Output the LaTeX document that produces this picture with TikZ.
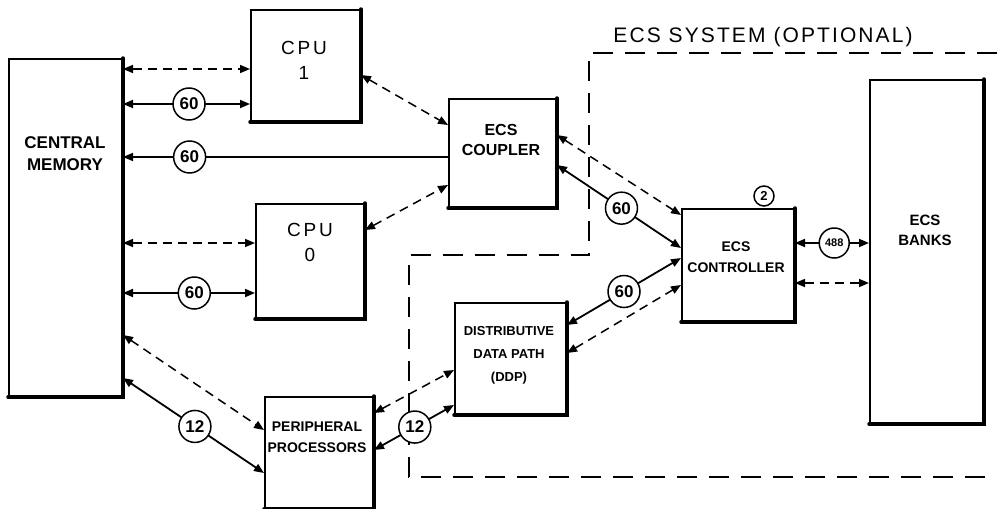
\documentclass[tikz,border=0pt]{standalone}
\usepackage{fontspec}
\setmainfont{Liberation Sans}
\newfontfamily\widefont[LetterSpace=15]{Liberation Sans}
\newfontfamily\titlefont[LetterSpace=10]{Liberation Sans}
\usetikzlibrary{arrows.meta}
\begin{document}
\begin{tikzpicture}[x=1pt,y=-1pt,
  box/.style={draw, line width=2pt, anchor=north west, inner sep=0pt},
  txt/.style={align=center, font=\bfseries\fontsize{14}{21}\selectfont},
  cputxt/.style={align=center, font=\widefont\fontsize{19}{25}\selectfont},
  tip/.tip={Triangle[length=10pt,width=8pt]},
  dsh/.style={line width=1.5pt, dash pattern=on 9pt off 6pt, tip-tip},
  sol/.style={line width=1.8pt, tip-tip},
  circ/.style={circle, draw, fill=white, line width=1.5pt, minimum size=32pt, inner sep=0pt, font=\bfseries\fontsize{17}{17}\selectfont},
  bnd/.style={line width=1.5pt, dash pattern=on 20pt off 12pt}]
\useasboundingbox (0,0) rectangle (997,509);

% boxes
\node[box, minimum width=113pt, minimum height=337pt] (cm) at (8,58) {};
\node[box, minimum width=109pt, minimum height=111pt] (cpu1) at (250,9) {};
\node[box, minimum width=108pt, minimum height=114pt] (cpu0) at (255,203) {};
\node[box, minimum width=107pt, minimum height=108pt] (coupler) at (448,98) {};
\node[box, minimum width=108pt, minimum height=111pt] (pp) at (264,396) {};
\node[box, minimum width=111pt, minimum height=111pt] (ddp) at (454,302) {};
\node[box, minimum width=112pt, minimum height=112pt] (ctrl) at (681,208) {};
\node[box, minimum width=113pt, minimum height=343pt] (banks) at (869,79) {};

\foreach \b in {cm,cpu1,cpu0,coupler,pp,ddp,ctrl,banks}
  \draw[line width=3.5pt, line cap=round] (\b.south west) -- (\b.south east) -- (\b.north east);

% texts
\node[txt, font=\bfseries\fontsize{17}{22}\selectfont] (cmt) at (65,154) {CENTRAL\\MEMORY};
\node[cputxt] (cpu1t) at (304,60) {CPU\\1};
\node[cputxt] (cpu0t) at (310,242) {CPU\\0};
\node[txt, font=\bfseries\fontsize{16}{20}\selectfont] (couplert) at (501,140) {ECS\\COUPLER};
\node[txt] (ctrlt) at (736,257) {ECS\\CONTROLLER};
\node[txt, font=\bfseries\fontsize{15}{20}\selectfont] (bankst) at (925,230) {ECS\\BANKS};
\node[txt, font=\bfseries\fontsize{13}{23}\selectfont] (ddpt) at (509,355) {DISTRIBUTIVE\\DATA PATH\\(DDP)};
\node[txt] (ppt) at (317,437) {PERIPHERAL\\PROCESSORS};

% ECS system boundary
\draw[bnd] (997,53) -- (589,53) -- (589,255) -- (409,255) -- (409,477) -- (997,477);
\node[font=\titlefont\fontsize{21}{21}\selectfont] (title) at (763,37) {ECS SYSTEM (OPTIONAL)};

% CM <-> CPU1
\draw[dsh] (cm.east |- 0,69) -- (cpu1.west |- 0,69);
\draw[sol] (cm.east |- 0,104) -- node[circ, pos=0.52] (c1) {60} (cpu1.west |- 0,104);
% CM <- coupler
\draw[line width=1.5pt, tip-] (cm.east |- 0,157) -- node[circ, pos=0.205] (c2) {60} (coupler.west |- 0,157);
% CM <-> CPU0
\draw[dsh] (cm.east |- 0,243) -- (cpu0.west |- 0,243);
\draw[sol] (cm.east |- 0,293) -- node[circ, pos=0.54] (c3) {60} (cpu0.west |- 0,293);
% CM <-> PP
\draw[dsh] (cm.east |- 0,335) -- (pp.west |- 0,430);
\draw[sol] (cm.east |- 0,378) -- node[circ, pos=0.51] (c4) {12} (pp.west |- 0,473);
% CPUs <-> coupler
\draw[dsh] (cpu1.east |- 0,75) -- (coupler.west |- 0,125);
\draw[dsh] (cpu0.east |- 0,230) -- (coupler.west |- 0,185);
% coupler <-> controller
\draw[dsh] (coupler.east |- 0,135) -- (ctrl.west |- 0,215);
\draw[sol] (coupler.east |- 0,165) -- node[circ, pos=0.52] (c5) {60} (ctrl.west |- 0,248);
% DDP <-> controller
\draw[sol] (ddp.east |- 0,325) -- node[circ, pos=0.5] (c6) {60} (ctrl.west |- 0,258);
\draw[dsh] (ddp.east |- 0,353) -- (ctrl.west |- 0,285);
% PP <-> DDP
\draw[dsh] (pp.east |- 0,413) -- (ddp.west |- 0,370);
\draw[sol] (pp.east |- 0,450) -- node[circ, pos=0.51] (c7) {12} (ddp.west |- 0,405);
% controller <-> banks
\draw[sol] (ctrl.east |- 0,243) -- node[circ, pos=0.53, minimum size=30pt, font=\bfseries\fontsize{11}{11}\selectfont] (c8) {488} (banks.west |- 0,243);
\draw[dsh] (ctrl.east |- 0,283) -- (banks.west |- 0,283);
% count circle on controller
\node[circ, minimum size=20pt, font=\bfseries\fontsize{13}{13}\selectfont] (c9) at (764,196) {2};
\end{tikzpicture}
\end{document}
